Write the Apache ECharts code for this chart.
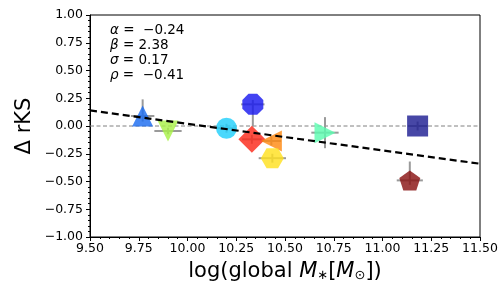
<!DOCTYPE html>
<html>
<head>
<meta charset="utf-8">
<script src="https://cdn.jsdelivr.net/npm/echarts@6/dist/echarts.min.js"></script>
<style>html,body{margin:0;padding:0;background:#fff}#c{width:504px;height:288px}</style>
</head>
<body>
<div id="c"></div>
<script>
// ---- data ----
var xVals   = [9.77, 9.90, 10.20, 10.335, 10.33, 10.43, 10.435, 10.705, 11.18, 11.14];
var yVals   = [0.09, -0.045, -0.02, 0.195, -0.12, -0.135, -0.29, -0.06, 0.0, -0.49];
var xErr    = [0.06, 0.07, 0.05, 0.06, 0.05, 0.05, 0.07, 0.07, 0.05, 0.067];
var yErrLo  = [0.05, 0.03, 0.04, 0.2, 0.04, 0.04, 0.04, 0.14, 0.04, 0.04];
var yErrHi  = [0.15, 0.03, 0.04, 0.04, 0.04, 0.04, 0.04, 0.14, 0.04, 0.17];
var fitX    = [9.5, 11.5];
var fitY    = [0.14, -0.34];
var xTicks  = [9.5, 11.5, 0.25];
var yTicks  = [-1, 1, 0.25];
var statSymbols = ['α', 'β', 'σ', 'ρ'];
var statValues  = [' =  −0.24', ' = 2.38', ' = 0.17', ' =  −0.41'];

// ---- styles ----
var OCT = 'path://M-0.383,-0.924 L0.383,-0.924 L0.924,-0.383 L0.924,0.383 L0.383,0.924 L-0.383,0.924 L-0.924,0.383 L-0.924,-0.383 Z';
var HEX = 'path://M-1,0 L-0.5,-0.866 L0.5,-0.866 L1,0 L0.5,0.866 L-0.5,0.866 Z';
var PENT = 'path://M0,-1 L0.951,-0.309 L0.588,0.809 L-0.588,0.809 L-0.951,-0.309 Z';
var markerStyles = [
  {symbol:'triangle', rot:0,   size:[21,21], color:'#1c6cf0'},
  {symbol:'triangle', rot:180, size:[21,21], color:'#a8f048'},
  {symbol:'circle',   rot:0,   size:[21,21], color:'#22d0fb'},
  {symbol:OCT,        rot:0,   size:[21,21], color:'#1a1aef'},
  {symbol:'diamond',  rot:0,   size:[27,27], color:'#fb2a1a'},
  {symbol:'triangle', rot:90,  size:[21,21], color:'#ff8a12'},
  {symbol:HEX,        rot:0,   size:[23,20], color:'#ffe020'},
  {symbol:'triangle', rot:-90, size:[21,21], color:'#5cfbb0'},
  {symbol:'rect',     rot:0,   size:[21,21], color:'#1f1f92'},
  {symbol:PENT,       rot:0,   size:[21,20], color:'#8a1414'}
];
var FONT = 'DejaVu Sans';
function fmt(v){ var s = Math.abs(v).toFixed(2); return (v < -1e-9 ? '−' : '') + s; }

var chart = echarts.init(document.getElementById('c'), null, {renderer:'canvas'});

var scatterData = xVals.map(function(x, i){
  var m = markerStyles[i];
  return {value:[x, yVals[i]], symbol:m.symbol, symbolRotate:m.rot, symbolSize:m.size,
          itemStyle:{color:m.color, opacity:0.82}};
});
var errData = xVals.map(function(x, i){ return [x, yVals[i], xErr[i], yErrLo[i], yErrHi[i]]; });

var axisCommon = {
  axisLine:{show:true, onZero:false, lineStyle:{color:'#000', width:1}},
  axisTick:{show:true, inside:false, length:4, lineStyle:{color:'#000'}},
  minorTick:{show:true, splitNumber:5, length:2, lineStyle:{color:'#000'}},
  splitLine:{show:false},
  axisLabel:{color:'#000', fontFamily:FONT, fontSize:12.5, formatter:fmt}
};

var graphics = statSymbols.map(function(g, i){
  return {type:'text', x:110, y:23 + i*15, z:10, style:{
    text:'{g|' + g + '}{n|' + statValues[i] + '}',
    rich:{g:{fontFamily:FONT, fontSize:13.5, fontStyle:'italic', fill:'#000'},
          n:{fontFamily:FONT, fontSize:13.5, fill:'#000'}}}};
});
graphics.push({type:'text', x:25, y:126, rotation:Math.PI/2, style:{
  text:'Δ rKS', font:'21px "DejaVu Sans"', fill:'#000', align:'center', verticalAlign:'middle'}});
graphics.push({type:'text', x:285, y:272, style:{
  text:'{n|log(global }{i|M}{s|∗}{n|[}{i|M}{s|⊙}{n|])}', align:'center', verticalAlign:'middle',
  rich:{n:{fontFamily:FONT, fontSize:21, fill:'#000'},
        i:{fontFamily:FONT, fontSize:21, fontStyle:'italic', fill:'#000'},
        s:{fontFamily:FONT, fontSize:13, fill:'#000', verticalAlign:'bottom', padding:[8,0,0,0]}}}});

chart.setOption({
  animation:false,
  backgroundColor:'#fff',
  grid:{left:90, top:15, right:24, bottom:51, show:true, borderColor:'#000', borderWidth:1},
  xAxis:Object.assign({type:'value', min:xTicks[0], max:xTicks[1], interval:xTicks[2]},
    axisCommon, {axisLabel:Object.assign({}, axisCommon.axisLabel, {margin:5})}),
  yAxis:Object.assign({type:'value', min:yTicks[0], max:yTicks[1], interval:yTicks[2]},
    axisCommon, {axisLabel:Object.assign({}, axisCommon.axisLabel, {margin:7})}),
  series:[
    {type:'line', data:[[fitX[0],0],[fitX[1],0]], symbol:'none', z:1,
     lineStyle:{color:'#808080', width:1, type:[4,2.5]}},
    {type:'custom', z:2, data:errData,
     renderItem:function(params, api){
       var x = api.value(0), y = api.value(1), xe = api.value(2), lo = api.value(3), hi = api.value(4);
       var a = api.coord([x - xe, y]), b = api.coord([x + xe, y]);
       var c = api.coord([x, y - lo]), d = api.coord([x, y + hi]);
       var st = {stroke:'#9a9a9a', lineWidth:2};
       return {type:'group', children:[
         {type:'line', shape:{x1:a[0], y1:a[1], x2:b[0], y2:b[1]}, style:st},
         {type:'line', shape:{x1:c[0], y1:c[1], x2:d[0], y2:d[1]}, style:st}
       ]};
     }},
    {type:'scatter', z:3, data:scatterData},
    {type:'line', z:4, data:[[fitX[0],fitY[0]],[fitX[1],fitY[1]]], symbol:'none',
     lineStyle:{color:'#000', width:2.2, type:[7,4]}}
  ],
  graphic:graphics
});
</script>
</body>
</html>
